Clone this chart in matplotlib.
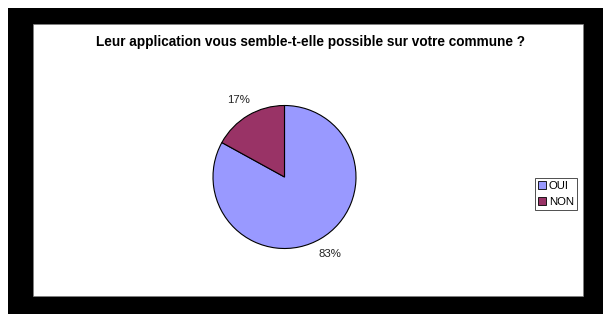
import matplotlib
matplotlib.use('Agg')
import matplotlib.pyplot as plt
from matplotlib.patches import Rectangle, Patch

# 데이터
labels = ['OUI', 'NON']
values = [83, 17]
colors = ['#9999FF', '#993366']
title = 'Leur application vous semble-t-elle possible sur votre commune ?'

plt.rcParams['font.family'] = ['Liberation Sans', 'DejaVu Sans']

W, H = 603, 314
fig = plt.figure(figsize=(W / 100, H / 100), dpi=100)
fig.patch.set_facecolor('white')

# 검은 테두리 + 흰색 안쪽 영역
fig.add_artist(Rectangle((8 / W, 0), (W - 8) / W, (H - 8) / H, transform=fig.transFigure,
                         facecolor='black', edgecolor='none', zorder=0))
fig.add_artist(Rectangle((33 / W, (H - 296) / H), 550 / W, 272 / H, transform=fig.transFigure,
                         facecolor='white', edgecolor='#808080', linewidth=0.5, zorder=1))

fig.text(310 / W, 1 - 42 / H, title, ha='center', va='center',
         fontsize=9.8, fontweight='bold', zorder=2)

# 파이 차트
ax = fig.add_axes([213 / W, 65.5 / H, 143 / W, 143 / H])
ax.set_zorder(3)
wedges, texts, autotexts = ax.pie(values, colors=colors, startangle=90, counterclock=False,
                                  autopct='%1.0f%%', pctdistance=1.25,
                                  wedgeprops=dict(edgecolor='black', linewidth=0.8))
for t in autotexts:
    t.set_fontsize(8.2)
    t.set_color('#222222')
ax.set_xlim(-1, 1)
ax.set_ylim(-1, 1)
ax.set_aspect('equal')

# 범례
handles = [Patch(facecolor=c, edgecolor='black', linewidth=0.6) for c in colors]
leg = fig.legend(handles, labels, loc='center left', bbox_to_anchor=(535 / W, 1 - 194 / H),
                 frameon=True, fancybox=False, fontsize=8.2, handlelength=0.7, handleheight=0.7,
                 handletextpad=0.2, borderpad=0.3, labelspacing=0.5, borderaxespad=0)
leg.get_frame().set_edgecolor('black')
leg.get_frame().set_linewidth(0.6)
leg.set_zorder(4)

fig.savefig('out.png', dpi=100)
